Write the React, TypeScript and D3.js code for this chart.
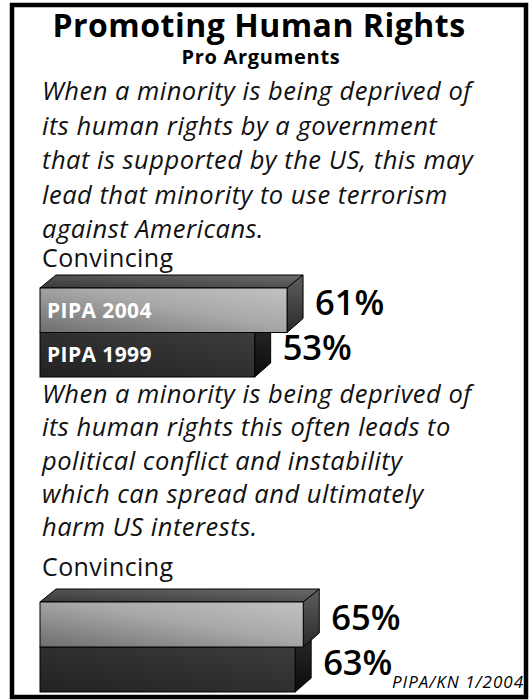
import React from "react";
import * as d3 from "d3";

const title = "Promoting Human Rights";
const subtitle = "Pro Arguments";
const seriesNames = ["PIPA 2004", "PIPA 1999"];
const q1Lines = [
  "When a minority is being deprived of",
  "its human rights by a government",
  "that is supported by the US, this may",
  "lead that minority to use terrorism",
  "against Americans.",
];
const q1Values = [61, 53];
const q2Lines = [
  "When a minority is being deprived of",
  "its human rights this often leads to",
  "political conflict and instability",
  "which can spread and ultimately",
  "harm US interests.",
];
const q2Values = [65, 63];
const answerLabel = "Convincing";
const source = "PIPA/KN 1/2004";

const W = 529;
const H = 700;
const DX = 16;
const DY = -13;
const x = d3.scaleLinear().domain([0, 100]).range([40, 445]);

const SANS = "'Open Sans', 'Noto Sans', sans-serif";

function Bars({ values, y0, y1, showNames }: { values: number[]; y0: number; y1: number; showNames: boolean }) {
  const y = d3.scaleBand<string>().domain(seriesNames).range([y0, y1]).padding(0);
  const bh = y.bandwidth();
  const order = seriesNames.map((n, i) => i).reverse();
  return (
    <g>
      {order.map((i) => {
        const name = seriesNames[i];
        const v = values[i];
        const xl = x(0);
        const xr = x(v);
        const yt = y(name) as number;
        const yb = yt + bh;
        const light = i === 0;
        const top = `M${xl},${yt}L${xl + DX},${yt + DY}L${xr + DX},${yt + DY}L${xr},${yt}Z`;
        const side = `M${xr},${yt}L${xr + DX},${yt + DY}L${xr + DX},${yb + DY - 1}L${xr},${yb}Z`;
        return (
          <g key={name}>
            <path d={top} fill={light ? "url(#topL)" : "url(#topD)"} stroke="#000" strokeWidth={1} strokeLinejoin="round" />
            <path d={side} fill={light ? "url(#sideL)" : "url(#sideD)"} stroke="#000" strokeWidth={1} strokeLinejoin="round" />
            <rect x={xl} y={yt} width={xr - xl} height={bh} fill={light ? "url(#frontL)" : "url(#frontD)"} stroke="#000" strokeWidth={1} />
            {showNames && (
              <text x={xl + 7} y={yt + bh / 2 + 7.5} fill="#fff" fontFamily={SANS} fontWeight={700} fontSize={21} letterSpacing={0.4}>
                {name}
              </text>
            )}
            <text x={xr + 28} y={yt + bh / 2 + 5} fill="#000" fontFamily={SANS} fontWeight={600} fontSize={34.5}>
              {v}%
            </text>
          </g>
        );
      })}
    </g>
  );
}

export default function App() {
  return (
    <svg width={W} height={H} style={{ position: "absolute", left: 0, top: 0, background: "#fff" }}>
      <defs>
        <linearGradient id="frontL" x1="0" y1="1" x2="1" y2="0">
          <stop offset="0" stopColor="#6e6e6e" />
          <stop offset="0.55" stopColor="#a8a8a8" />
          <stop offset="1" stopColor="#c2c2c2" />
        </linearGradient>
        <linearGradient id="frontD" x1="0" y1="1" x2="1" y2="0">
          <stop offset="0" stopColor="#222" />
          <stop offset="1" stopColor="#3c3c3c" />
        </linearGradient>
        <linearGradient id="topL" x1="0" y1="1" x2="1" y2="0">
          <stop offset="0" stopColor="#3a3a3a" />
          <stop offset="1" stopColor="#6a6a6a" />
        </linearGradient>
        <linearGradient id="topD" x1="0" y1="1" x2="1" y2="0">
          <stop offset="0" stopColor="#1a1a1a" />
          <stop offset="1" stopColor="#333" />
        </linearGradient>
        <linearGradient id="sideL" x1="0" y1="1" x2="0" y2="0">
          <stop offset="0" stopColor="#2a2a2a" />
          <stop offset="1" stopColor="#5e5e5e" />
        </linearGradient>
        <linearGradient id="sideD" x1="0" y1="1" x2="0" y2="0">
          <stop offset="0" stopColor="#0c0c0c" />
          <stop offset="1" stopColor="#2a2a2a" />
        </linearGradient>
      </defs>
      <rect x={12} y={5} width={514} height={692} fill="#fff" stroke="#000" strokeWidth={4.5} />
      <text x={259} y={37} textAnchor="middle" fontFamily={SANS} fontWeight={700} fontSize={32} letterSpacing={0.5}>
        {title}
      </text>
      <text x={261} y={64} textAnchor="middle" fontFamily={SANS} fontWeight={700} fontSize={20} letterSpacing={0.7}>
        {subtitle}
      </text>
      {q1Lines.map((l, i) => (
        <text key={"a" + i} x={42} y={100 + i * 34.5} fontFamily={SANS} fontStyle="italic" fontSize={25.5} letterSpacing={0.5} fill="#111">
          {l}
        </text>
      ))}
      <text x={42} y={267} fontFamily={SANS} fontSize={25} letterSpacing={0.4} fill="#111">
        {answerLabel}
      </text>
      <Bars values={q1Values} y0={288} y1={377} showNames={true} />
      {q2Lines.map((l, i) => (
        <text key={"b" + i} x={42} y={403 + i * 33.3} fontFamily={SANS} fontStyle="italic" fontSize={25.5} letterSpacing={0.5} fill="#111">
          {l}
        </text>
      ))}
      <text x={42} y={576} fontFamily={SANS} fontSize={25} letterSpacing={0.4} fill="#111">
        {answerLabel}
      </text>
      <Bars values={q2Values} y0={602} y1={692} showNames={false} />
      <text x={524} y={688} textAnchor="end" fontFamily={SANS} fontStyle="italic" fontSize={17} letterSpacing={1.0}>
        {source}
      </text>
    </svg>
  );
}
